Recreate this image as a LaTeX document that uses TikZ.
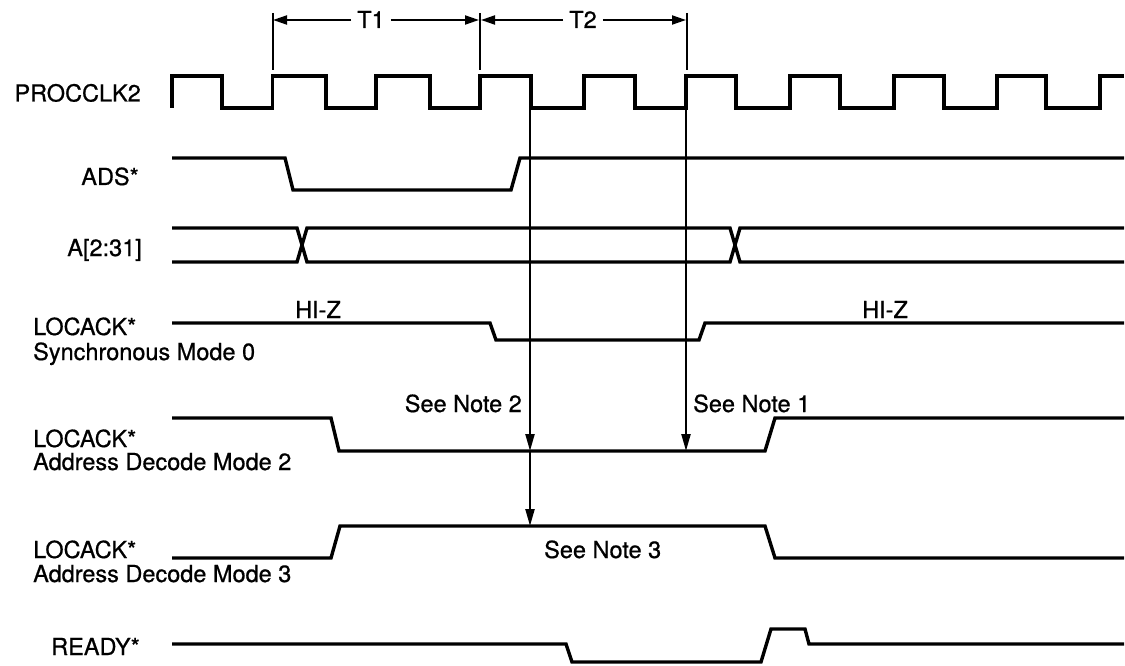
\documentclass[tikz,border=0pt]{standalone}
\usepackage{fontspec}
\setmainfont{TeX Gyre Heros}[BoldFont={TeX Gyre Heros}, BoldFeatures={FakeBold=0.7}]
\usetikzlibrary{arrows.meta}
\tikzset{
  sig/.style={line width=3.4pt, line join=miter, line cap=butt},
  tickline/.style={line width=2pt},
  dimarrow/.style={line width=2pt, -{Triangle[length=14pt,width=9pt]}},
  notearrow/.style={line width=2.2pt, -{Triangle[length=17pt,width=9pt]}},
  lbl/.style={inner sep=0pt, font=\fontsize{23.5}{27}\selectfont\bfseries},
}
\begin{document}
\begin{tikzpicture}[x=1pt,y=-1pt]
\fill[white] (0,0) rectangle (1125,666);
\useasboundingbox (0,0) rectangle (1125,666);

% ---------- labels ----------
\node[lbl, anchor=base east] (lclk) at (141,101.5) {PROCCLK2};
\node[lbl, anchor=base east] (lads) at (139,185) {ADS*};
\node[lbl, anchor=base east] (laddr) at (142,256) {A[2:31]};
\node[lbl, anchor=base west] (lack0) at (33,335) {LOCACK*};
\node[lbl, anchor=base west] (lack0b) at (33,360) {Synchronous Mode 0};
\node[lbl, anchor=base west] (lack2) at (33,447) {LOCACK*};
\node[lbl, anchor=base west] (lack2b) at (33,470) {Address Decode Mode 2};
\node[lbl, anchor=base west] (lack3) at (33,558) {LOCACK*};
\node[lbl, anchor=base west] (lack3b) at (33,582) {Address Decode Mode 3};
\node[lbl, anchor=base east] (lrdy) at (140,655) {READY*};

\node[lbl, anchor=base] (hiz1) at (318,318) {HI-Z};
\node[lbl, anchor=base] (hiz2) at (885,318) {HI-Z};
\node[lbl, anchor=base east] (note2) at (522,412) {See Note 2};
\node[lbl, anchor=base west] (note1) at (693,412) {See Note 1};
\node[lbl, anchor=base west] (note3) at (544,558) {See Note 3};
\node[lbl, anchor=base] (t1) at (371,28) {T1};
\node[lbl, anchor=base] (t2) at (583,28) {T2};

% ---------- clock ----------
\draw[sig] (172,108) -- (172,76) -- (222,76) -- (222,108)
  -- (272.5,108) -- (272.5,76) -- (326,76) -- (326,108)
  -- (376,108) -- (376,76) -- (430,76) -- (430,108)
  -- (480,108) -- (480,76) -- (531,76) -- (531,108)
  -- (584,108) -- (584,76) -- (635,76) -- (635,108)
  -- (686,108) -- (686,76) -- (736,76) -- (736,108)
  -- (790,108) -- (790,76) -- (840,76) -- (840,108)
  -- (894,108) -- (894,76) -- (944,76) -- (944,108)
  -- (997,108) -- (997,76) -- (1046,76) -- (1046,108)
  -- (1100,108) -- (1100,76) -- (1124,76);

% ---------- ADS* ----------
\draw[sig] (172,158) -- (285,158) -- (293,190) -- (511,190) -- (520,158) -- (1124,158);

% ---------- A[2:31] ----------
\draw[sig] (172,228) -- (297,228) -- (307,262) -- (730,262) -- (740,228) -- (1124,228);
\draw[sig] (172,262) -- (297,262) -- (307,228) -- (730,228) -- (740,262) -- (1124,262);

% ---------- LOCACK* mode 0 ----------
\draw[sig] (172,323) -- (490,323) -- (496,340) -- (699,340) -- (705,323) -- (1124,323);

% ---------- LOCACK* mode 2 ----------
\draw[sig] (172,418) -- (331,418) -- (339,451) -- (765,451) -- (775,418) -- (1124,418);

% ---------- LOCACK* mode 3 ----------
\draw[sig] (172,558) -- (331,558) -- (340,526) -- (765,526) -- (775,558) -- (1124,558);

% ---------- READY* ----------
\draw[sig] (172,644) -- (566,644) -- (572,662) -- (761,662) -- (771,629) -- (805,629) -- (809,644) -- (1124,644);

% ---------- T1 / T2 dimension ----------
\coordinate (tk1t) at (273,13);  \coordinate (tk1b) at (273,70);
\coordinate (tk2t) at (480,13);  \coordinate (tk2b) at (480,70);
\coordinate (tk3t) at (687,13);  \coordinate (tk3b) at (687,70);
\draw[tickline] (tk1t) -- (tk1b);
\draw[tickline] (tk2t) -- (tk2b);
\draw[tickline] (tk3t) -- (tk3b);
\coordinate (a1) at (273,20); \coordinate (a2) at (479,20);
\coordinate (a3) at (481,20); \coordinate (a4) at (686,20);
\draw[dimarrow] (t1.west |- a1) ++(-6,0) -- (a1);
\draw[dimarrow] (t1.east |- a2) ++(6,0) -- (a2);
\draw[dimarrow] (t2.west |- a3) ++(-6,0) -- (a3);
\draw[dimarrow] (t2.east |- a4) ++(6,0) -- (a4);

% ---------- note arrows ----------
\coordinate (n2top) at (530,108);
\coordinate (n2mid) at (530,451);
\coordinate (n2bot) at (530,526);
\coordinate (n1top) at (686,108);
\coordinate (n1bot) at (686,451);
\draw[notearrow] (n2top) -- (n2mid);
\draw[notearrow] (n2mid) -- (n2bot);
\draw[notearrow] (n1top) -- (n1bot);
\end{tikzpicture}
\end{document}
